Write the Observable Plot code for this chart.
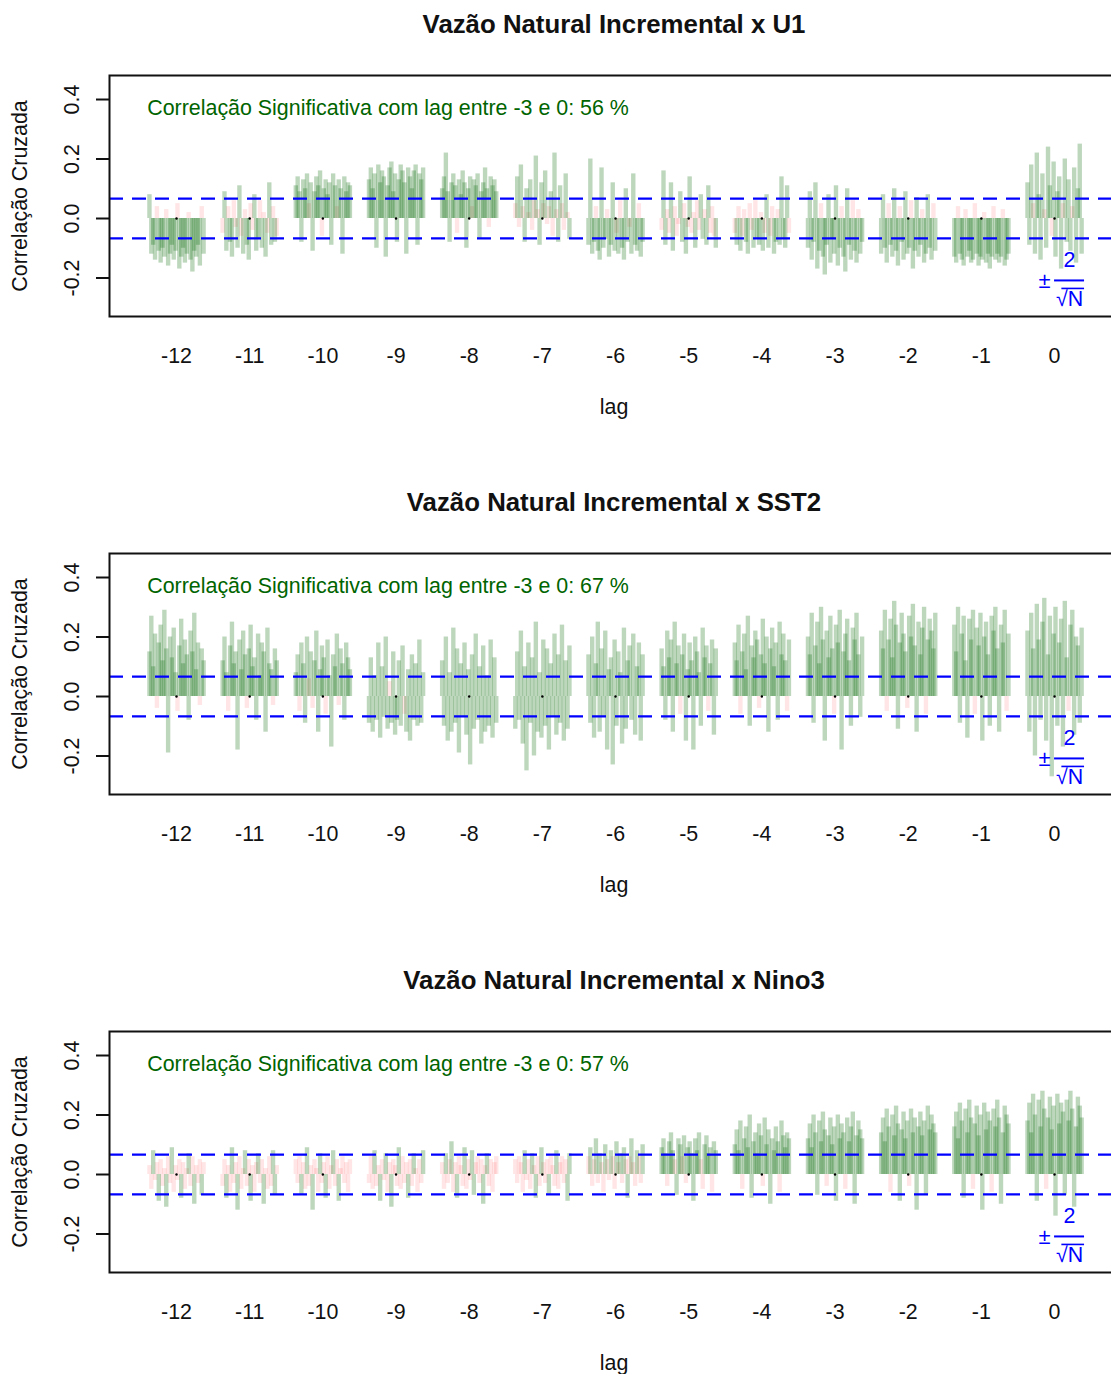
<!DOCTYPE html>
<html>
<head>
<meta charset="utf-8">
<script src="https://cdn.jsdelivr.net/npm/d3@7"></script>
<script src="https://cdn.jsdelivr.net/npm/@observablehq/plot@0.6"></script>
<style>
  html, body { margin: 0; padding: 0; background: white; overflow: hidden; }
  #wrap { width: 1111px; height: 1374px; overflow: hidden; }
  #wrap svg { display: block; }
</style>
</head>
<body>
<div id="wrap"></div>
<script>
// ---------- data ----------
const lags = [-12, -11, -10, -9, -8, -7, -6, -5, -4, -3, -2, -1, 0];
const yTicks = [-0.2, 0.0, 0.2, 0.4];
const threshold = 0.067; // 2/sqrt(N)

const titles = [
  "Vazão Natural Incremental x U1",
  "Vazão Natural Incremental x SST2",
  "Vazão Natural Incremental x Nino3"
];
const notes = [
  "Correlação Significativa com lag entre -3 e 0: 56 %",
  "Correlação Significativa com lag entre -3 e 0: 67 %",
  "Correlação Significativa com lag entre -3 e 0: 57 %"
];

// cross-correlation of each station, one row per lag (-12 .. 0)
const ccfU1 = [
  [0.08,-0.12,-0.09,-0.14,0.04,-0.11,-0.15,-0.10,-0.13,0.03,-0.16,-0.12,-0.09,-0.14,-0.11,0.05,-0.17,-0.13,-0.10,-0.15,-0.12,0.02,-0.14,-0.18,-0.11,-0.13,-0.09,-0.16,0.04,-0.12],
  [-0.05,0.09,-0.11,0.04,-0.08,-0.13,0.06,-0.03,-0.10,0.11,-0.06,-0.12,0.03,-0.09,-0.14,0.05,-0.04,0.08,-0.11,-0.07,0.06,-0.10,0.02,-0.13,-0.05,0.12,-0.09,0.04,-0.08,-0.06],
  [0.11,0.14,0.09,-0.08,0.13,0.10,0.15,0.05,0.12,-0.11,0.09,0.14,0.11,0.16,-0.06,0.10,0.13,0.08,0.12,-0.09,0.15,0.11,0.04,0.13,0.10,-0.12,0.14,0.09,0.12,0.11],
  [0.13,0.17,0.10,0.15,-0.10,0.18,0.12,0.16,0.14,-0.13,0.11,0.17,0.19,0.09,0.15,-0.08,0.13,0.18,0.16,0.12,-0.12,0.17,0.14,0.10,0.16,0.18,-0.09,0.15,0.13,0.17],
  [0.10,0.14,0.22,0.09,-0.08,0.12,0.15,0.11,-0.05,0.13,0.08,0.16,0.12,-0.10,0.10,0.14,0.04,0.13,0.11,0.15,-0.07,0.09,0.12,0.17,0.10,-0.03,0.14,0.11,0.13,0.09],
  [0.05,0.14,-0.03,0.18,0.04,-0.08,0.10,0.02,0.13,-0.04,0.06,0.21,0.03,-0.09,0.12,0.05,0.16,-0.02,0.04,0.09,-0.06,0.22,0.03,-0.08,0.11,0.05,-0.04,0.15,0.02,-0.07],
  [-0.09,0.20,-0.12,-0.08,0.04,-0.11,-0.14,0.17,-0.10,-0.07,0.03,-0.13,-0.09,0.12,-0.11,-0.05,-0.12,0.06,-0.10,-0.14,0.10,-0.08,-0.03,-0.12,0.15,-0.09,-0.11,0.05,-0.13,-0.08],
  [-0.04,0.16,-0.09,0.03,-0.05,0.12,-0.11,0.04,-0.06,-0.02,0.09,-0.08,0.05,-0.12,-0.03,0.14,-0.05,0.02,-0.10,0.06,-0.04,0.08,-0.07,0.03,-0.09,0.11,-0.05,0.04,-0.06,-0.10],
  [-0.05,-0.09,0.04,-0.11,-0.06,0.03,-0.08,-0.12,0.05,-0.04,-0.10,0.06,-0.07,-0.09,0.02,-0.11,-0.05,0.08,-0.10,-0.06,0.04,-0.12,-0.08,0.03,-0.09,0.14,-0.07,-0.10,0.11,-0.05],
  [-0.10,0.09,-0.14,-0.08,0.12,-0.17,-0.11,0.05,-0.13,-0.19,-0.09,0.08,-0.15,-0.07,-0.12,0.11,-0.16,-0.10,0.04,-0.13,-0.18,0.10,-0.09,-0.14,0.06,-0.11,-0.15,0.03,-0.12,-0.08],
  [-0.12,0.08,-0.10,-0.15,0.05,-0.09,-0.13,0.10,-0.11,-0.16,0.04,-0.08,-0.14,0.09,-0.12,-0.10,0.06,-0.17,-0.11,0.07,-0.13,-0.09,0.03,-0.15,-0.12,0.08,-0.10,-0.14,0.05,-0.11],
  [-0.13,-0.15,0.04,-0.12,-0.14,-0.16,0.03,-0.13,-0.11,-0.15,-0.14,0.05,-0.12,-0.16,-0.13,-0.14,0.02,-0.15,-0.12,-0.17,-0.13,0.04,-0.14,-0.12,-0.15,-0.13,0.03,-0.16,-0.14,-0.12],
  [0.12,-0.09,0.18,0.05,-0.12,0.22,0.08,-0.14,0.15,0.03,-0.10,0.24,0.11,-0.06,0.19,-0.13,0.09,0.14,-0.17,0.05,0.20,-0.08,0.13,-0.11,0.04,0.17,-0.15,0.10,0.25,-0.12]
];
const ccfSST2 = [
  [0.15,0.27,0.10,0.21,-0.04,0.18,0.24,0.12,0.29,0.16,-0.19,0.20,0.13,0.23,0.08,-0.05,0.17,0.26,0.11,0.19,0.14,-0.08,0.22,0.15,0.28,0.09,0.18,-0.03,0.16,0.12],
  [0.12,0.20,0.08,-0.05,0.17,0.25,0.11,0.15,-0.18,0.19,0.09,0.22,0.14,-0.04,0.16,0.24,0.10,0.13,-0.08,0.21,0.07,0.18,0.15,-0.12,0.23,0.11,0.09,-0.03,0.16,0.12],
  [0.08,0.14,-0.05,0.18,0.11,-0.09,0.20,0.06,0.15,-0.04,0.12,0.22,-0.12,0.09,0.17,0.13,-0.06,0.19,0.07,-0.17,0.14,0.10,0.21,-0.03,0.16,0.11,-0.08,0.18,0.13,0.09],
  [-0.09,0.13,-0.12,0.07,-0.08,0.18,-0.14,0.10,-0.07,0.20,-0.11,0.05,-0.09,0.15,-0.13,-0.08,0.12,-0.10,0.17,-0.06,-0.12,0.09,-0.15,0.14,-0.08,0.11,-0.10,0.19,-0.09,0.08],
  [0.12,-0.10,0.20,-0.15,0.08,-0.12,0.23,-0.09,0.16,-0.19,0.11,-0.07,0.18,-0.13,0.09,-0.23,0.14,-0.11,0.21,-0.08,0.10,-0.16,0.17,-0.12,0.07,-0.10,0.19,-0.14,0.13,-0.09],
  [-0.11,0.15,-0.08,0.22,-0.16,0.10,-0.25,0.18,-0.09,0.13,-0.20,0.25,-0.12,0.08,-0.14,0.19,-0.10,0.16,-0.18,0.11,-0.07,0.21,-0.13,0.14,-0.09,0.24,-0.15,0.12,-0.11,0.17],
  [0.14,-0.09,0.20,-0.14,0.11,0.25,-0.12,0.16,-0.07,0.22,-0.18,0.09,0.13,-0.23,0.19,-0.10,0.15,0.08,-0.16,0.23,-0.11,0.12,0.17,-0.08,0.21,-0.13,0.10,0.18,-0.15,0.14],
  [0.16,0.10,-0.08,0.22,0.13,0.19,-0.12,0.25,0.11,0.17,-0.06,0.14,0.21,-0.15,0.09,0.18,0.12,-0.18,0.20,0.15,0.08,-0.10,0.23,0.13,0.17,-0.05,0.11,0.19,-0.13,0.16],
  [0.18,0.12,0.24,-0.06,0.15,0.21,0.09,0.27,-0.10,0.17,0.13,0.22,0.19,-0.04,0.14,0.26,0.11,0.20,-0.12,0.16,0.23,0.10,0.18,-0.08,0.25,0.14,0.21,0.12,-0.05,0.19],
  [0.20,0.14,0.28,-0.09,0.17,0.25,0.11,0.30,0.19,-0.15,0.22,0.13,0.27,0.16,-0.06,0.24,0.18,0.29,-0.18,0.15,0.21,0.26,0.12,-0.10,0.23,0.19,0.28,0.14,-0.07,0.20],
  [0.22,0.16,0.29,-0.05,0.19,0.26,0.13,0.32,0.24,-0.11,0.18,0.28,0.21,0.15,-0.04,0.27,0.20,0.31,0.17,-0.12,0.25,0.14,0.23,0.30,-0.06,0.19,0.26,0.22,0.16,0.28],
  [0.24,0.15,0.30,-0.09,0.21,0.27,0.12,-0.14,0.26,0.19,0.29,-0.06,0.23,0.17,0.28,-0.15,0.20,0.25,0.14,-0.10,0.27,0.22,0.30,0.16,-0.12,0.24,0.18,0.29,-0.05,0.21],
  [0.22,-0.12,0.28,0.16,-0.20,0.31,0.19,-0.08,0.25,0.33,-0.15,0.14,0.27,-0.27,0.21,0.30,-0.10,0.18,0.26,-0.17,0.32,0.13,-0.05,0.24,0.29,-0.13,0.20,0.17,-0.09,0.23]
];
const ccfNino3 = [
  [0.03,-0.05,0.08,-0.02,0.04,-0.09,0.05,-0.04,0.02,-0.11,0.06,-0.03,0.09,-0.06,0.03,-0.02,0.05,-0.08,0.04,-0.05,0.02,0.07,-0.04,0.06,-0.10,0.03,-0.03,0.05,-0.07,0.04],
  [-0.04,0.05,-0.08,0.03,-0.06,0.09,-0.03,0.04,-0.12,0.06,-0.05,0.02,0.08,-0.04,0.05,-0.09,0.03,-0.06,0.04,0.07,-0.03,0.05,-0.10,0.02,-0.05,0.06,-0.04,0.08,-0.07,0.03],
  [0.05,-0.03,0.06,-0.07,0.04,-0.05,0.09,-0.04,0.03,-0.12,0.05,0.02,-0.06,0.07,-0.03,0.04,-0.08,0.06,-0.05,0.03,0.08,-0.04,0.05,-0.09,0.02,0.06,-0.03,0.04,-0.06,0.05],
  [-0.03,0.06,-0.05,0.08,-0.04,0.03,-0.09,0.05,-0.02,0.07,-0.06,0.04,-0.11,0.05,0.03,-0.04,0.09,-0.05,0.06,-0.03,0.04,-0.08,0.05,-0.04,0.07,0.02,-0.06,0.05,-0.03,0.08],
  [0.04,-0.05,0.07,-0.03,0.05,0.11,-0.06,0.04,-0.08,0.06,0.03,-0.04,0.09,-0.05,0.05,-0.02,0.08,-0.07,0.04,0.06,-0.03,0.05,-0.10,0.03,0.07,-0.04,0.05,-0.06,0.04,0.06],
  [0.05,-0.03,0.06,0.04,-0.06,0.08,-0.02,0.05,-0.05,0.07,0.03,-0.08,0.06,-0.04,0.09,0.04,-0.03,0.05,-0.07,0.06,0.03,-0.04,0.08,-0.05,0.04,0.06,-0.03,0.05,-0.09,0.07],
  [0.06,0.09,-0.04,0.05,0.12,-0.03,0.07,0.04,-0.06,0.10,0.05,-0.02,0.08,0.06,-0.05,0.11,0.04,0.07,-0.03,0.09,0.05,-0.08,0.06,0.12,0.04,-0.04,0.08,0.06,-0.03,0.10],
  [0.09,0.12,0.07,-0.04,0.11,0.14,0.08,0.05,-0.07,0.12,0.10,0.06,0.13,-0.03,0.09,0.11,0.07,-0.09,0.12,0.08,0.14,0.05,-0.05,0.10,0.13,0.07,0.09,-0.06,0.11,0.08],
  [0.10,0.15,0.08,0.18,-0.05,0.12,0.16,0.09,0.20,-0.08,0.11,0.14,0.07,0.17,0.13,-0.04,0.19,0.10,0.15,-0.10,0.12,0.08,0.16,0.11,-0.06,0.18,0.13,0.09,0.14,0.12],
  [0.12,0.17,0.09,0.20,0.14,-0.07,0.18,0.11,0.21,0.15,-0.04,0.13,0.19,0.10,0.16,-0.09,0.20,0.12,0.17,0.14,-0.05,0.19,0.11,0.16,0.21,-0.10,0.13,0.18,0.15,0.12],
  [0.14,0.19,0.11,0.22,0.16,-0.06,0.20,0.13,0.23,0.17,-0.09,0.15,0.21,0.12,0.18,-0.04,0.22,0.14,0.19,-0.12,0.16,0.21,0.13,0.18,-0.07,0.23,0.15,0.20,0.17,0.14],
  [0.16,0.21,0.12,0.24,0.18,-0.08,0.22,0.14,0.25,0.19,-0.05,0.17,0.23,0.13,0.20,-0.12,0.24,0.15,0.21,0.18,-0.06,0.22,0.16,0.25,0.19,-0.10,0.14,0.23,0.20,0.17],
  [0.18,0.24,0.14,0.27,0.20,-0.09,0.25,0.16,0.28,0.22,-0.05,0.19,0.26,0.15,0.23,-0.14,0.27,0.17,0.24,0.21,-0.07,0.25,0.18,0.28,0.22,-0.11,0.16,0.26,0.23,0.19]
];
const panels = [ccfU1, ccfSST2, ccfNino3];

// ---------- drawing ----------
const FONT = "'Liberation Sans', Arial, Helvetica, sans-serif";
const GREEN = "#006400";
const BLUE = "#0000ff";
const INK = "#111";
const groupWidth = 0.74;

function panel(title, note, ccf) {
  const rows = [];
  ccf.forEach((group, gi) => group.forEach((r, i) => rows.push({
    lag: lags[gi],
    pos: lags[gi] + (i / (group.length - 1) - 0.5) * groupWidth,
    r,
    sig: Math.abs(r) > threshold
  })));
  const t = (opts) => ({textAnchor: "middle", lineAnchor: "middle", fontSize: 21.4, fill: INK, ...opts});
  return Plot.plot({
    width: 1130, height: 478,
    marginLeft: 109, marginRight: 12, marginTop: 75, marginBottom: 162,
    x: {domain: [-12.916, 0.874], axis: null},
    y: {domain: [-0.3294, 0.4807], axis: null},
    style: {fontFamily: FONT, fontSize: "21px", background: "white", maxWidth: "none", overflow: "visible"},
    marks: [
      Plot.ruleX(rows.filter(d => !d.sig), {x: "pos", y1: 0, y2: "r", stroke: "red", strokeOpacity: 0.1, strokeWidth: 4.4}),
      Plot.ruleX(rows.filter(d => d.sig), {x: "pos", y1: 0, y2: "r", stroke: GREEN, strokeOpacity: 0.26, strokeWidth: 4.4}),
      Plot.dot(lags, {x: d => d, y: 0, r: 1.2, fill: "black", stroke: null}),
      Plot.ruleY([threshold, -threshold], {stroke: BLUE, strokeWidth: 2.2, strokeDasharray: "14,9"}),
      Plot.frame({stroke: INK, strokeWidth: 2}),
      // y axis
      Plot.axisY(yTicks, {anchor: "left", tickSize: 13, tickFormat: () => "", label: null, strokeWidth: 2, stroke: INK}),
      Plot.text(yTicks, t({y: d => d, text: d => d.toFixed(1), frameAnchor: "left", dx: -37, rotate: -90})),
      Plot.text(["Correlação Cruzada"], t({frameAnchor: "left", dx: -89, rotate: -90})),
      // x axis
      Plot.text(lags, t({x: d => d, text: d => String(d), frameAnchor: "bottom", dy: 40})),
      Plot.text(["lag"], t({frameAnchor: "bottom", dy: 91})),
      // title
      Plot.text([title], t({frameAnchor: "top", dy: -51, fontSize: 25.8, fontWeight: "bold"})),
      // note
      Plot.text([note], t({x: -12.4, y: 0.37, textAnchor: "start", fill: GREEN})),
      // ± 2/sqrt(N) label
      Plot.text(["2"], t({x: 0, y: -threshold, dx: 15, dy: 22, fill: BLUE})),
      Plot.text(["±"], t({x: 0, y: -threshold, dx: -10, dy: 43, fontSize: 22, fill: BLUE})),
      Plot.ruleY([-threshold], {x1: 0, x2: 0.41, dy: 42, stroke: BLUE, strokeWidth: 2}),
      Plot.text(["√N"], t({x: 0, y: -threshold, dx: 15, dy: 61, fill: BLUE})),
      Plot.ruleY([-threshold], {x1: 0.1, x2: 0.41, dy: 50, stroke: BLUE, strokeWidth: 1.6})
    ]
  });
}

const wrap = document.getElementById("wrap");
panels.forEach((ccf, k) => wrap.appendChild(panel(titles[k], notes[k], ccf)));
</script>
</body>
</html>
